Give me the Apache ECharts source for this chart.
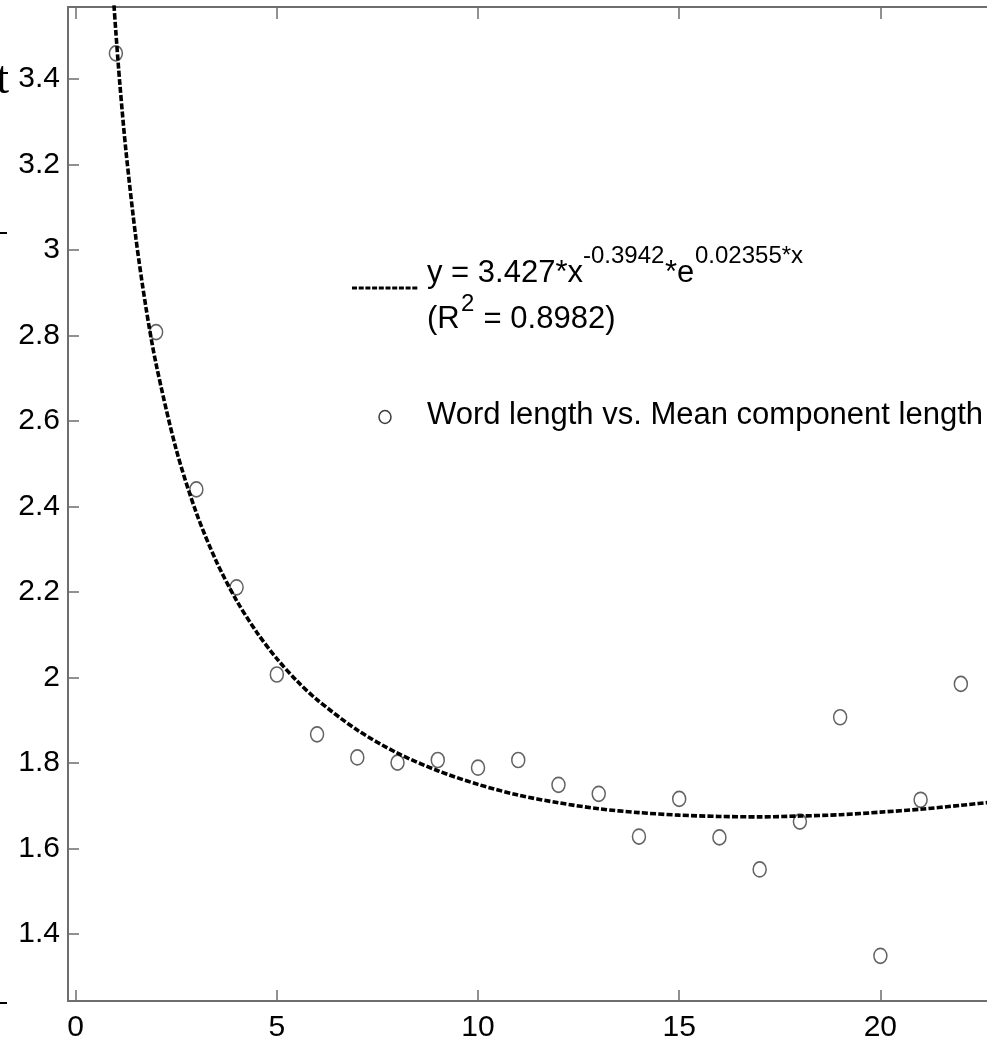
<!DOCTYPE html>
<html>
<head>
<meta charset="utf-8">
<script src="https://cdn.jsdelivr.net/npm/echarts@6/dist/echarts.min.js"></script>
<style>
  html, body { margin: 0; padding: 0; background: #fff; }
  #chart { width: 987px; height: 1045px; }
</style>
</head>
<body>
<div id="chart"></div>
<script>
// observed points
const wordLength = [1, 2, 3, 4, 5, 6, 7, 8, 9, 10, 11, 12, 13, 14, 15, 16, 17, 18, 19, 20, 21, 22];
const meanComponentLength = [
  3.46, 2.808, 2.44, 2.211, 2.007, 1.867, 1.813, 1.801, 1.807, 1.789, 1.807,
  1.749, 1.728, 1.628, 1.716, 1.626, 1.551, 1.663, 1.907, 1.349, 1.714, 1.985
];

// fitted curve y = 3.427*x^-0.3942*e^(0.02355*x), sampled
const fitX = [0.9, 0.95, 1, 1.1, 1.25, 1.5, 1.75, 2, 2.5, 3, 3.5, 4, 4.5, 5, 5.5, 6, 7, 8, 9, 10,
  11, 12, 13, 14, 15, 16, 17, 18, 19, 20, 21, 22, 23];
const fitY = [3.649, 3.576, 3.509, 3.387, 3.232, 3.026, 2.864, 2.733, 2.533, 2.385, 2.271, 2.180,
  2.106, 2.044, 1.992, 1.948, 1.877, 1.823, 1.782, 1.750, 1.725, 1.707, 1.693, 1.684, 1.678,
  1.675, 1.674, 1.676, 1.679, 1.685, 1.692, 1.701, 1.711];

const xTicks = [0, 5, 10, 15, 20];
const yTicks = [1.4, 1.6, 1.8, 2, 2.2, 2.4, 2.6, 2.8, 3, 3.2, 3.4];

const font = "'Liberation Sans', Arial, sans-serif";
const axisGray = "#6e6e6e";

const chart = echarts.init(document.getElementById("chart"));

const option = {
  backgroundColor: "#fff",
  animation: false,
  grid: {
    left: 68,
    top: 7,
    right: 0,
    bottom: 44,
    containLabel: false,
    outerBoundsMode: "none",
  },
  xAxis: [
    {
      type: "value",
      min: -0.19,
      max: 22.65,
      position: "bottom",
      axisLine: { onZero: false, lineStyle: { color: axisGray, width: 2 } },
      axisTick: {
        inside: true,
        length: 11,
        customValues: xTicks,
        lineStyle: { color: axisGray, width: 1.5 },
      },
      axisLabel: {
        customValues: xTicks,
        color: "#000",
        fontSize: 30,
        fontFamily: font,
        margin: 12,
      },
      splitLine: { show: false },
    },
    {
      type: "value",
      min: -0.19,
      max: 22.65,
      position: "top",
      axisLine: { onZero: false, lineStyle: { color: axisGray, width: 2 } },
      axisTick: {
        inside: true,
        length: 12,
        customValues: xTicks,
        lineStyle: { color: axisGray, width: 1.5 },
      },
      axisLabel: { show: false },
      splitLine: { show: false },
    },
  ],
  yAxis: {
    type: "value",
    min: 1.2433,
    max: 3.5684,
    axisLine: { show: true, onZero: false, lineStyle: { color: axisGray, width: 2 } },
    axisTick: {
      show: true,
      inside: true,
      length: 11,
      customValues: yTicks,
      lineStyle: { color: axisGray, width: 1.5 },
    },
    axisLabel: {
      customValues: yTicks,
      color: "#000",
      fontSize: 30,
      fontFamily: font,
      margin: 8,
    },
    splitLine: { show: false },
  },
  series: [
    {
      name: "Word length vs. Mean component length",
      type: "scatter",
      xAxisIndex: 0,
      data: wordLength.map((x, i) => [x, meanComponentLength[i]]),
      symbol: "circle",
      symbolSize: [13, 15],
      itemStyle: { color: "transparent", borderColor: "#3c3c3c", borderWidth: 1.6 },
      z: 3,
    },
    {
      name: "fit",
      type: "line",
      xAxisIndex: 0,
      data: fitX.map((x, i) => [x, fitY[i]]),
      smooth: 0.3,
      showSymbol: false,
      clip: true,
      lineStyle: { color: "#000", width: 3.6, type: [6, 2.2] },
      z: 4,
    },
  ],
  graphic: [
    // legend: fitted curve
    {
      type: "line",
      shape: { x1: 352, y1: 288, x2: 418, y2: 288 },
      style: { stroke: "#000", lineWidth: 3.2, lineDash: [5, 1.7] },
    },
    { type: "text", x: 427, y: 273, style: { text: "y = 3.427*x", font: "31px " + font, fill: "#000", verticalAlign: "middle" } },
    { type: "text", x: 583, y: 256, style: { text: "-0.3942", font: "24px " + font, fill: "#000", verticalAlign: "middle" } },
    { type: "text", x: 665, y: 273, style: { text: "*e", font: "31px " + font, fill: "#000", verticalAlign: "middle" } },
    { type: "text", x: 695, y: 256, style: { text: "0.02355*x", font: "24px " + font, fill: "#000", verticalAlign: "middle" } },
    { type: "text", x: 427, y: 319, style: { text: "(R", font: "31px " + font, fill: "#000", verticalAlign: "middle" } },
    { type: "text", x: 461, y: 304, style: { text: "2", font: "24px " + font, fill: "#000", verticalAlign: "middle" } },
    { type: "text", x: 475, y: 319, style: { text: " = 0.8982)", font: "31px " + font, fill: "#000", verticalAlign: "middle" } },
    // legend: data points
    {
      type: "ellipse",
      shape: { cx: 385, cy: 417, rx: 6, ry: 6.5 },
      style: { fill: "none", stroke: "#3c3c3c", lineWidth: 1.5 },
    },
    {
      type: "text", x: 427, y: 415,
      style: { text: "Word length vs. Mean component length", font: "31px " + font, fill: "#000", verticalAlign: "middle" },
    },
    // bits of the neighbouring figure at the left edge
    { type: "text", x: 9, y: 81, style: { text: "t", font: "46px 'Liberation Serif', serif", fill: "#000", align: "right", verticalAlign: "middle" } },
    { type: "line", shape: { x1: 0, y1: 233, x2: 7, y2: 233 }, style: { stroke: "#000", lineWidth: 2 } },
    { type: "line", shape: { x1: 0, y1: 1003, x2: 7, y2: 1003 }, style: { stroke: "#000", lineWidth: 2 } },
  ],
};

chart.setOption(option);
</script>
</body>
</html>
